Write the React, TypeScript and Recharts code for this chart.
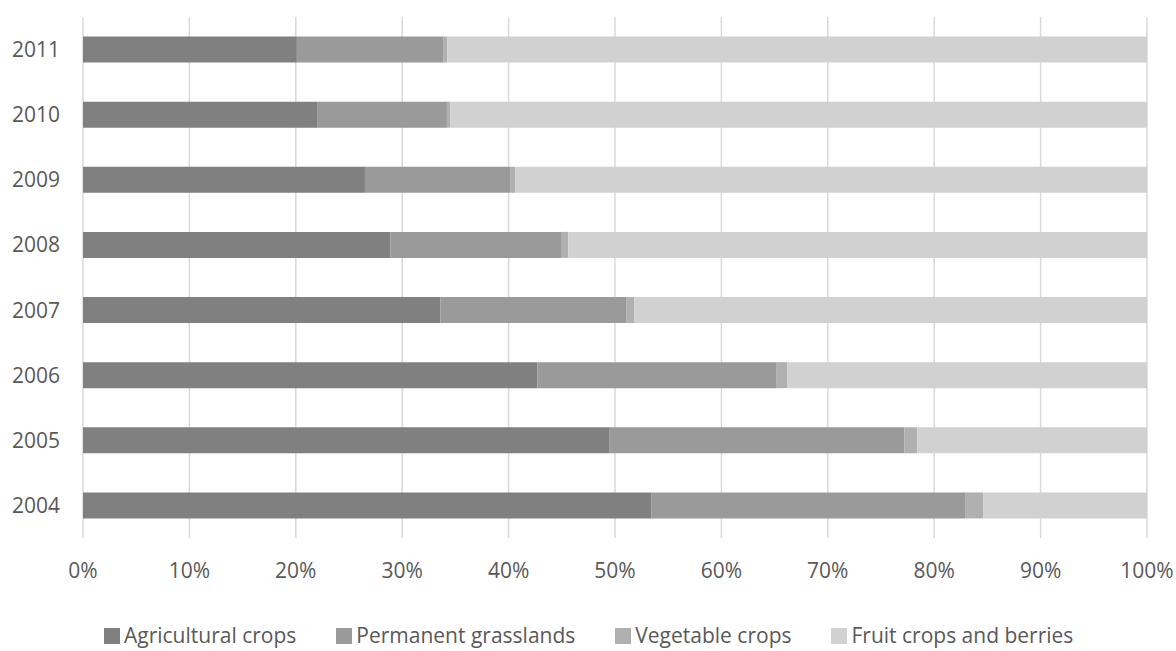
import React from 'react';
import { BarChart, Bar, XAxis, YAxis, CartesianGrid, Legend } from 'recharts';

const years = ['2004', '2005', '2006', '2007', '2008', '2009', '2010', '2011'];
const agricultural = [53.4, 49.5, 42.7, 33.6, 28.9, 26.5, 22.0, 20.1];
const grasslands = [29.5, 27.7, 22.5, 17.5, 16.1, 13.7, 12.2, 13.8];
const vegetables = [1.7, 1.2, 1.0, 0.7, 0.6, 0.4, 0.3, 0.35];
const fruit = [15.4, 21.6, 33.8, 48.2, 54.4, 59.4, 65.5, 65.75];
const percentTicks = [0, 0.1, 0.2, 0.3, 0.4, 0.5, 0.6, 0.7, 0.8, 0.9, 1];

const series = [
    { key: 'agri', name: 'Agricultural crops', color: '#808080' },
    { key: 'grass', name: 'Permanent grasslands', color: '#9a9a9a' },
    { key: 'veg', name: 'Vegetable crops', color: '#b0b0b0' },
    { key: 'fruit', name: 'Fruit crops and berries', color: '#d1d1d1' },
];

const data = years.map((year, i) => ({
    year,
    agri: agricultural[i],
    grass: grasslands[i],
    veg: vegetables[i],
    fruit: fruit[i],
}));

const FONT = '"Open Sans", sans-serif';
const TEXT = '#595959';

const renderLegend = () => (
    <div
        style={{
            display: 'flex',
            justifyContent: 'flex-start',
            fontFamily: FONT,
            fontSize: 21,
            lineHeight: '28px',
            color: TEXT,
            paddingLeft: 104,
            whiteSpace: 'nowrap',
        }}
    >
        {series.map((s) => (
            <div key={s.key} style={{ display: 'flex', alignItems: 'flex-start', marginRight: 40 }}>
                <span
                    style={{
                        display: 'inline-block',
                        width: 16,
                        height: 16,
                        background: s.color,
                        marginRight: 4,
                        marginTop: 7,
                    }}
                />
                <span>{s.name}</span>
            </div>
        ))}
    </div>
);

export default function App() {
    return (
        <div style={{ position: 'absolute', left: 0, top: 0, background: '#fff' }}>
            <BarChart
                width={1176}
                height={651}
                data={data}
                layout="vertical"
                stackOffset="expand"
                barCategoryGap="30%"
                margin={{ top: 17, right: 29, left: 0, bottom: 53 }}
            >
                <CartesianGrid horizontal={false} stroke="#d9d9d9" strokeWidth={1.5} />
                <XAxis
                    type="number"
                    domain={[0, 1]}
                    ticks={percentTicks}
                    tickFormatter={(v: number) => `${Math.round(v * 100)}%`}
                    axisLine={false}
                    tickLine={false}
                    tickSize={0}
                    tickMargin={25}
                    height={60}
                    tick={{ fill: TEXT, fontSize: 21, fontFamily: FONT }}
                    interval={0}
                />
                <YAxis
                    type="category"
                    dataKey="year"
                    reversed
                    axisLine={false}
                    tickLine={false}
                    tickSize={0}
                    tickMargin={23}
                    width={83}
                    tick={{ fill: TEXT, fontSize: 21, fontFamily: FONT }}
                />
                <Legend
                    verticalAlign="middle"
                    align="center"
                    content={renderLegend}
                    wrapperStyle={{ top: 621, left: 0, width: 1176 }}
                />
                {series.map((s) => (
                    <Bar
                        key={s.key}
                        dataKey={s.key}
                        name={s.name}
                        stackId="a"
                        fill={s.color}
                        isAnimationActive={false}
                    />
                ))}
            </BarChart>
        </div>
    );
}
